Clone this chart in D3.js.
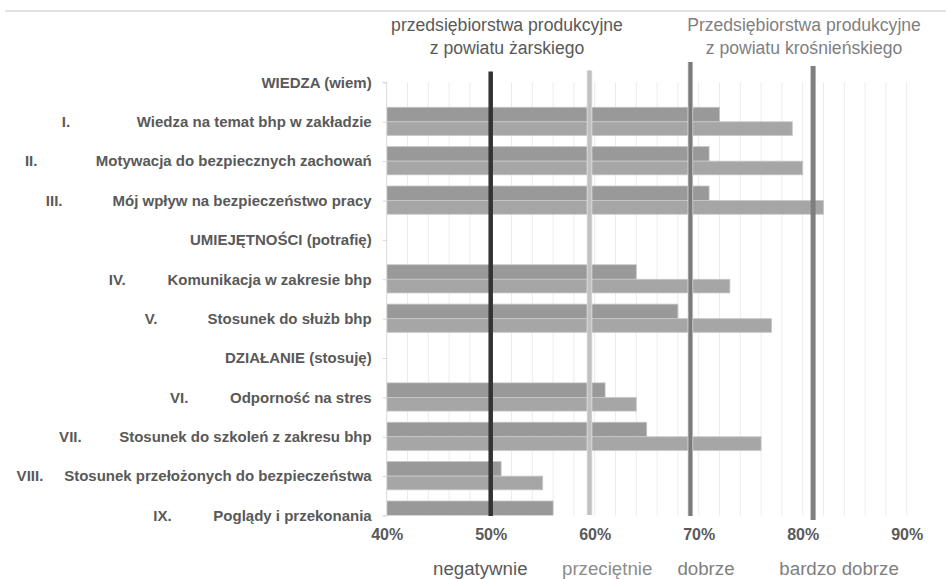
<!DOCTYPE html>
<html lang="pl">
<head>
<meta charset="utf-8">
<script src="https://cdn.jsdelivr.net/npm/d3@7"></script>
<style>
  html, body { margin: 0; padding: 0; background: #fff; }
  svg { display: block; font-family: "Liberation Sans", Arial, sans-serif; }
  .cat text { white-space: pre; }
</style>
</head>
<body>
<svg id="chart" width="946" height="579"></svg>
<script>
// Category labels (section headers and numbered dimensions)
const categories = [
  "WIEDZA (wiem)",
  "I.                Wiedza na temat bhp w zakładzie",
  "II.              Motywacja do bezpiecznych zachowań",
  "III.            Mój wpływ na bezpieczeństwo pracy",
  "UMIEJĘTNOŚCI (potrafię)",
  "IV.          Komunikacja w zakresie bhp",
  "V.            Stosunek do służb bhp",
  "DZIAŁANIE (stosuję)",
  "VI.          Odporność na stres",
  "VII.         Stosunek do szkoleń z zakresu bhp",
  "VIII.     Stosunek przełożonych do bezpieczeństwa",
  "IX.          Poglądy i przekonania"
];

// Scores (%) — production companies, Żary county
const zarskiValues = [null, 72, 71, 71, null, 64, 68, null, 61, 65, 51, 56];
// Scores (%) — production companies, Krosno county
const krosnienskiValues = [null, 79, 80, 82, null, 73, 77, null, 64, 76, 55, null];

// Assessment thresholds (%) and their names
const thresholdValues = [50, 59.5, 69.2, 81];
const thresholdLabels = ["negatywnie", "przeciętnie", "dobrze", "bardzo dobrze"];

// Axis ticks
const xTickValues = [40, 50, 60, 70, 80, 90];
const seriesTitles = [
  ["przedsiębiorstwa produkcyjne", "z powiatu żarskiego"],
  ["Przedsiębiorstwa produkcyjne", "z powiatu krośnieńskiego"]
];

const svg = d3.select("#chart");

const plotTop = 82.4, plotBottom = 515.5;
const x = d3.scaleLinear().domain([40, 90]).range([386.7, 906.7]);
const y = d3.scalePoint().domain(categories).range([plotTop, plotBottom]);
const barH = 14.5;

// top rule
svg.append("line")
  .attr("x1", 5).attr("x2", 946).attr("y1", 11).attr("y2", 11)
  .attr("stroke", "#d9d9d9").attr("stroke-width", 1.5);

// vertical gridlines every 2 %
svg.append("g")
  .selectAll("line")
  .data(d3.range(42, 90.5, 2))
  .join("line")
  .attr("x1", d => x(d)).attr("x2", d => x(d))
  .attr("y1", plotTop).attr("y2", plotBottom)
  .attr("stroke", "#ebebeb").attr("stroke-width", 1);

// bars, clipped to the plot area
svg.append("clipPath").attr("id", "plotClip")
  .append("rect")
  .attr("x", x(40)).attr("y", plotTop - 20)
  .attr("width", x(90) - x(40) + 40).attr("height", plotBottom - plotTop + 20);

const barsG = svg.append("g").attr("clip-path", "url(#plotClip)");

barsG.selectAll("rect.zar")
  .data(categories.map((c, i) => ({ c, v: zarskiValues[i] })).filter(d => d.v != null))
  .join("rect")
  .attr("class", "zar")
  .attr("x", x(40))
  .attr("y", d => y(d.c) - barH)
  .attr("width", d => x(d.v) - x(40))
  .attr("height", barH)
  .attr("fill", "#999999")
  .attr("stroke", "#c4c4c4").attr("stroke-width", 0.8);

barsG.selectAll("rect.kro")
  .data(categories.map((c, i) => ({ c, v: krosnienskiValues[i] })).filter(d => d.v != null))
  .join("rect")
  .attr("class", "kro")
  .attr("x", x(40))
  .attr("y", d => y(d.c))
  .attr("width", d => x(d.v) - x(40))
  .attr("height", barH - 0.8)
  .attr("fill", "#a6a6a6")
  .attr("stroke", "#c8c8c8").attr("stroke-width", 0.8);

// left category axis
const yAxis = d3.axisLeft(y).tickSize(4).tickPadding(11);
const gy = svg.append("g")
  .attr("class", "cat")
  .attr("transform", `translate(${x(40)},0)`)
  .call(yAxis);
gy.select(".domain").attr("stroke", "#d9d9d9").attr("d", `M-4,${plotTop}H0V${plotBottom}H-4`);
gy.selectAll(".tick line").attr("stroke", "#d9d9d9");
gy.selectAll(".tick text")
  .attr("xml:space", "preserve")
  .attr("fill", "#595959")
  .attr("font-size", 15)
  .attr("font-weight", "bold")
  .attr("font-family", "Liberation Sans, Arial, sans-serif");

// bottom value axis (labels only)
const xAxis = d3.axisBottom(x)
  .tickValues(xTickValues)
  .tickSize(0).tickPadding(13)
  .tickFormat(d => d + "%");
const gx = svg.append("g")
  .attr("transform", `translate(0,${plotBottom})`)
  .call(xAxis);
gx.select(".domain").remove();
gx.selectAll(".tick text")
  .attr("fill", "#595959")
  .attr("font-size", 16)
  .attr("font-weight", "bold")
  .attr("font-family", "Liberation Sans, Arial, sans-serif");

// threshold lines
const thrStyle = [
  { color: "#333333", halo: null,      w: 4.5, top: 71.5, bottom: 516 },
  { color: "#c0c0c0", halo: "#e0e0e0", w: 4,   top: 70.5, bottom: 515 },
  { color: "#7a7a7a", halo: "#dcdcdc", w: 4,   top: 62,   bottom: 516 },
  { color: "#7f7f7f", halo: null,      w: 5,   top: 66,   bottom: 520 }
];
const thrG = svg.append("g");
thrG.selectAll("line.halo")
  .data(thresholdValues.filter((d, i) => thrStyle[i].halo))
  .join("line")
  .attr("class", "halo")
  .attr("x1", d => x(d)).attr("x2", d => x(d))
  .attr("y1", d => thrStyle[thresholdValues.indexOf(d)].top)
  .attr("y2", d => thrStyle[thresholdValues.indexOf(d)].bottom)
  .attr("stroke", d => thrStyle[thresholdValues.indexOf(d)].halo)
  .attr("stroke-width", d => thrStyle[thresholdValues.indexOf(d)].w + 1.6);
thrG.selectAll("line.core")
  .data(thresholdValues)
  .join("line")
  .attr("class", "core")
  .attr("x1", d => x(d)).attr("x2", d => x(d))
  .attr("y1", (d, i) => thrStyle[i].top).attr("y2", (d, i) => thrStyle[i].bottom)
  .attr("stroke", (d, i) => thrStyle[i].color)
  .attr("stroke-width", (d, i) => thrStyle[i].w);

// threshold names under the axis
const labelAnchor = [49.0, 61.2, 70.7, 83.5];
const labelColor = ["#595959", "#8c8c8c", "#7f7f7f", "#7f7f7f"];
svg.append("g")
  .selectAll("text")
  .data(thresholdLabels)
  .join("text")
  .attr("x", (d, i) => x(labelAnchor[i]))
  .attr("y", 574.5)
  .attr("text-anchor", "middle")
  .attr("font-size", 18.7)
  .attr("fill", (d, i) => labelColor[i])
  .text(d => d);

// series titles
const titleX = [507, 804];
const titleColor = ["#595959", "#7f7f7f"];
seriesTitles.forEach((lines, i) => {
  const t = svg.append("text")
    .attr("text-anchor", "middle")
    .attr("font-size", 17.6)
    .attr("fill", titleColor[i]);
  lines.forEach((ln, j) => {
    t.append("tspan").attr("x", titleX[i]).attr("y", 31 + j * 23.3).text(ln);
  });
});
</script>
</body>
</html>
